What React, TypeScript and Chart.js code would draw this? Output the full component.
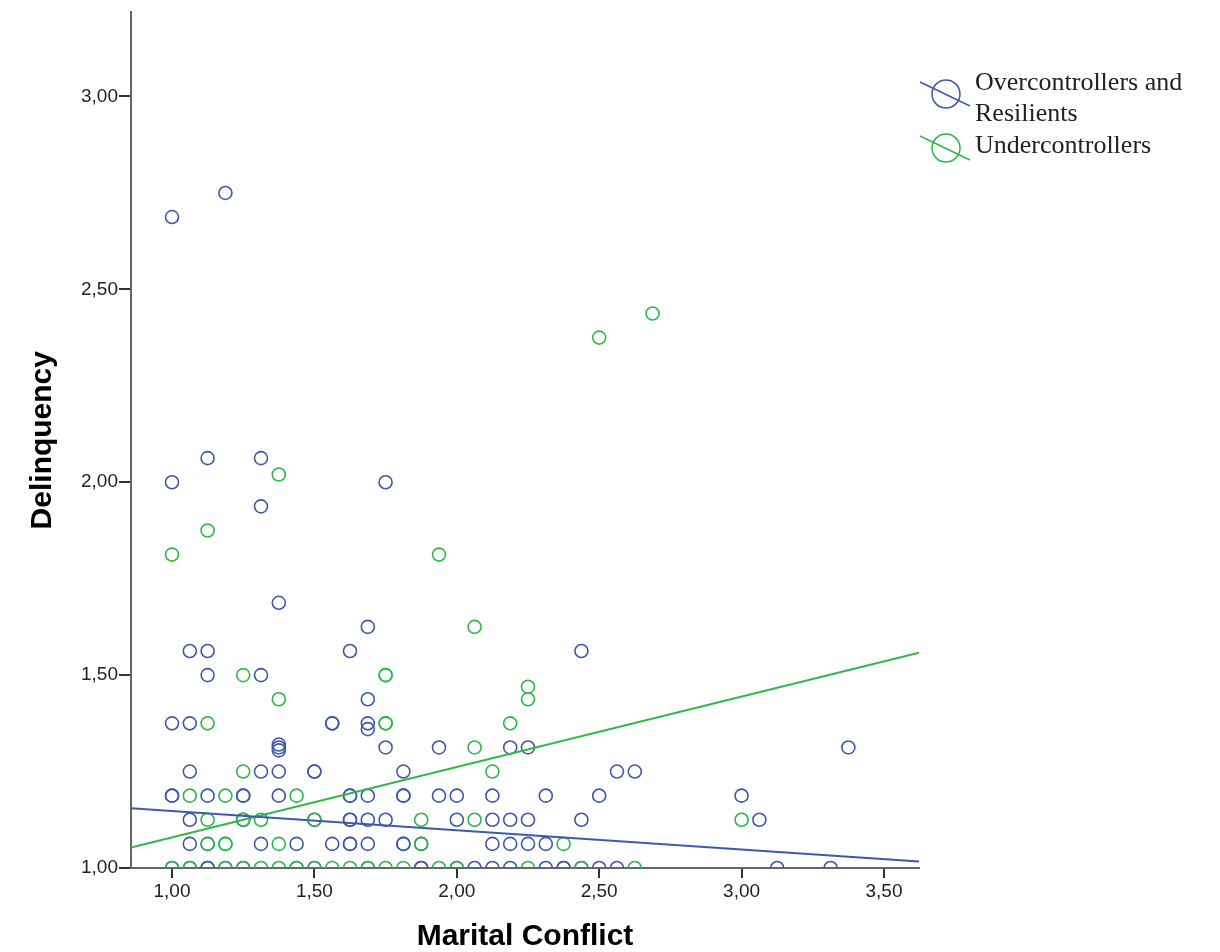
import React, { useEffect, useRef } from "react";
import { Chart, registerables } from "chart.js";

Chart.register(...registerables);

// ---- Data ----
const blueX = [
  1.0, 1.1875, 1.125, 1.3125, 1.0, 1.75, 1.3125, 1.375, 1.6875,
  1.0625, 1.125, 1.625, 2.4375,
  1.125, 1.3125,
  1.6875,
  1.0, 1.0625, 1.5625, 1.5625, 1.6875,
  1.6875,
  1.375, 1.375, 1.375, 1.75, 1.9375, 2.1875, 2.25, 3.375,
  1.0625, 1.3125, 1.375, 1.5, 1.5, 1.8125, 2.5625, 2.625,
  1.0, 1.0, 1.125, 1.25, 1.25, 1.375, 1.625, 1.625, 1.6875, 1.8125, 1.8125, 1.9375, 2.0, 2.125, 2.3125, 2.5, 3.0,
  1.0625, 1.25, 1.5, 1.625, 1.625, 1.6875, 1.75, 2.0, 2.125, 2.1875, 2.25, 2.4375, 3.0625,
  1.0625, 1.125, 1.3125, 1.4375, 1.5625, 1.625, 1.625, 1.6875, 1.8125, 1.8125, 1.875, 2.125, 2.1875, 2.25, 2.3125,
  1.0, 1.0625, 1.125, 1.125, 1.1875, 1.25, 1.4375, 1.5, 1.6875, 1.875, 1.875, 2.0, 2.0625, 2.125, 2.1875, 2.3125, 2.375, 2.375, 2.4375, 2.5, 2.5625, 3.125, 3.3125,
];
const blueY = [
  2.6875, 2.75, 2.0625, 2.0625, 2.0, 2.0, 1.9375, 1.6875, 1.625,
  1.5625, 1.5625, 1.5625, 1.5625,
  1.5, 1.5,
  1.4375,
  1.375, 1.375, 1.375, 1.375, 1.375,
  1.36,
  1.3125, 1.32, 1.305, 1.3125, 1.3125, 1.3125, 1.3125, 1.3125,
  1.25, 1.25, 1.25, 1.25, 1.25, 1.25, 1.25, 1.25,
  1.1875, 1.1875, 1.1875, 1.1875, 1.1875, 1.1875, 1.1875, 1.1875, 1.1875, 1.1875, 1.1875, 1.1875, 1.1875, 1.1875, 1.1875, 1.1875, 1.1875,
  1.125, 1.125, 1.125, 1.125, 1.125, 1.125, 1.125, 1.125, 1.125, 1.125, 1.125, 1.125, 1.125,
  1.0625, 1.0625, 1.0625, 1.0625, 1.0625, 1.0625, 1.0625, 1.0625, 1.0625, 1.0625, 1.0625, 1.0625, 1.0625, 1.0625, 1.0625,
  1.0, 1.0, 1.0, 1.0, 1.0, 1.0, 1.0, 1.0, 1.0, 1.0, 1.0, 1.0, 1.0, 1.0, 1.0, 1.0, 1.0, 1.0, 1.0, 1.0, 1.0, 1.0, 1.0,
];

const greenX = [
  2.5, 2.6875, 1.375, 1.125, 1.0, 1.9375, 2.0625,
  1.25, 1.75, 1.75,
  2.25,
  1.375, 2.25,
  1.125, 1.75, 1.75, 2.1875,
  2.0625,
  1.25, 2.125,
  1.0625, 1.1875, 1.4375,
  1.125, 1.25, 1.3125, 1.5, 1.875, 2.0625, 3.0,
  1.125, 1.1875, 1.1875, 1.375, 1.875, 2.375,
  1.0, 1.0625, 1.1875, 1.25, 1.3125, 1.375, 1.4375, 1.5, 1.5625, 1.625, 1.6875, 1.75, 1.8125, 1.9375, 2.0, 2.25, 2.4375, 2.625,
];
const greenY = [
  2.375, 2.4375, 2.02, 1.875, 1.8125, 1.8125, 1.625,
  1.5, 1.5, 1.5,
  1.47,
  1.4375, 1.4375,
  1.375, 1.375, 1.375, 1.375,
  1.3125,
  1.25, 1.25,
  1.1875, 1.1875, 1.1875,
  1.125, 1.125, 1.125, 1.125, 1.125, 1.125, 1.125,
  1.0625, 1.0625, 1.0625, 1.0625, 1.0625, 1.0625,
  1.0, 1.0, 1.0, 1.0, 1.0, 1.0, 1.0, 1.0, 1.0, 1.0, 1.0, 1.0, 1.0, 1.0, 1.0, 1.0, 1.0, 1.0,
];

// fit lines (end points)
const fitX = [0.856, 3.623];
const blueFitY = [1.155, 1.017];
const greenFitY = [1.053, 1.558];

const xTicks = [1.0, 1.5, 2.0, 2.5, 3.0, 3.5];
const yTicks = [1.0, 1.5, 2.0, 2.5, 3.0];
const xRange = [0.856, 3.623];
const yRange = [1.0, 3.218];

const seriesNames = ["Overcontrollers and|Resilients", "Undercontrollers"];
const xTitle = "Marital Conflict";
const yTitle = "Delinquency";

const BLUE = "#3e58ac";
const GREEN = "#2eb848";

const zip = (xs: number[], ys: number[]) => xs.map((x, i) => ({ x, y: ys[i] }));
const fmt = (v: number) => v.toFixed(2).replace(".", ",");

const legendPlugin = {
  id: "spssLegend",
  afterDraw(chart: any) {
    const ctx = chart.ctx;
    const items = [
      { color: BLUE, lines: seriesNames[0].split("|"), cy: 94 },
      { color: GREEN, lines: seriesNames[1].split("|"), cy: 148 },
    ];
    ctx.save();
    items.forEach((it) => {
      ctx.strokeStyle = it.color;
      ctx.lineWidth = 1.5;
      ctx.beginPath();
      ctx.arc(946, it.cy, 14, 0, Math.PI * 2);
      ctx.stroke();
      ctx.beginPath();
      ctx.moveTo(920, it.cy - 12);
      ctx.lineTo(970, it.cy + 12);
      ctx.stroke();
      ctx.fillStyle = "#222";
      ctx.font = "26px 'Liberation Serif'";
      ctx.textAlign = "left";
      ctx.textBaseline = "alphabetic";
      it.lines.forEach((t, i) => {
        ctx.fillText(t, 975, it.cy - 4 + (i * 31) + (it.lines.length === 1 ? 9 : 0));
      });
    });
    ctx.restore();
  },
};

export default function App() {
  const ref = useRef<HTMLCanvasElement | null>(null);
  useEffect(() => {
    if (!ref.current) return;
    const tickFont = { family: "'Liberation Sans', Arial", size: 19 };
    const chart = new Chart(ref.current, {
      type: "scatter",
      data: {
        datasets: [
          {
            type: "line",
            data: zip(fitX, blueFitY),
            borderColor: BLUE,
            borderWidth: 2,
            pointRadius: 0,
            showLine: true,
            fill: false,
            order: 0,
          } as any,
          {
            type: "line",
            data: zip(fitX, greenFitY),
            borderColor: GREEN,
            borderWidth: 2,
            pointRadius: 0,
            showLine: true,
            fill: false,
            order: 0,
          } as any,
          {
            data: zip(greenX, greenY),
            borderColor: GREEN,
            backgroundColor: "rgba(0,0,0,0)",
            borderWidth: 1.6,
            pointRadius: 6.5,
            clip: 0,
            order: 1,
          },
          {
            data: zip(blueX, blueY),
            borderColor: BLUE,
            backgroundColor: "rgba(0,0,0,0)",
            borderWidth: 1.6,
            pointRadius: 6.5,
            clip: 0,
            order: 2,
          },
        ],
      },
      options: {
        animation: false,
        responsive: false,
        devicePixelRatio: 1,
        layout: { padding: { left: 28, top: 12, right: 301, bottom: 0 } },
        plugins: { legend: { display: false }, tooltip: { enabled: false } },
        scales: {
          x: {
            type: "linear",
            min: xRange[0],
            max: xRange[1],
            afterBuildTicks: (s: any) => {
              s.ticks = xTicks.map((v) => ({ value: v }));
            },
            afterFit: (s: any) => {
              s.height = 84;
            },
            border: { color: "#666", width: 2 },
            grid: { drawOnChartArea: false, drawTicks: true, tickLength: 10, color: "#333", lineWidth: 2 },
            ticks: { font: tickFont, color: "#222", padding: 2, callback: (v: any) => fmt(Number(v)), maxRotation: 0, autoSkip: false },
            title: {
              display: true,
              text: xTitle,
              font: { family: "'Liberation Sans', Arial", size: 30, weight: "bold", lineHeight: 1 },
              color: "#000",
              padding: 0,
            },
          },
          y: {
            type: "linear",
            min: yRange[0],
            max: yRange[1],
            afterBuildTicks: (s: any) => {
              s.ticks = yTicks.map((v) => ({ value: v }));
            },
            afterFit: (s: any) => {
              s.width = 103;
            },
            border: { color: "#666", width: 2 },
            grid: { drawOnChartArea: false, drawTicks: true, tickLength: 12, color: "#333", lineWidth: 2 },
            ticks: { font: tickFont, color: "#222", padding: 1, callback: (v: any) => fmt(Number(v)), autoSkip: false },
            title: {
              display: true,
              text: yTitle,
              font: { family: "'Liberation Sans', Arial", size: 30, weight: "bold", lineHeight: 1 },
              color: "#000",
              padding: 0,
            },
          },
        },
      },
      plugins: [legendPlugin],
    } as any);
    return () => chart.destroy();
  }, []);
  return (
    <div style={{ position: "fixed", left: 0, top: 0, width: 1220, height: 952, background: "#fff" }}>
      <canvas ref={ref} width={1220} height={952} style={{ display: "block", width: 1220, height: 952 }} />
    </div>
  );
}
